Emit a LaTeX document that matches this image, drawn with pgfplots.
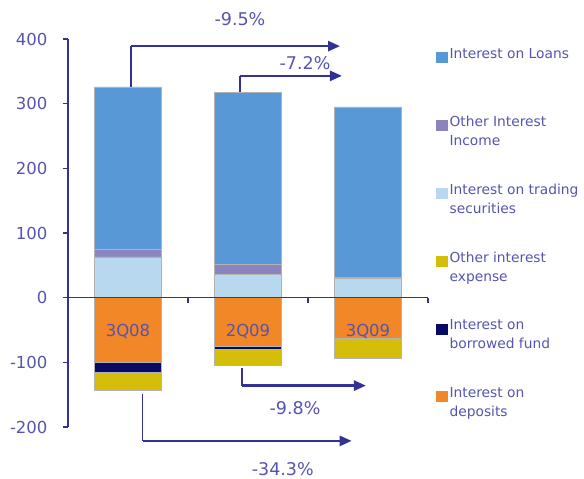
\documentclass[border=0pt]{standalone}
\usepackage{pgfplots}
\pgfplotsset{compat=1.18}
\usepackage{fontspec}
\setmainfont{DejaVu Sans}
\usetikzlibrary{arrows.meta}

\definecolor{loans}{RGB}{88,152,214}
\definecolor{otherinc}{RGB}{140,132,190}
\definecolor{trading}{RGB}{184,216,240}
\definecolor{otherexp}{RGB}{212,190,10}
\definecolor{borrowed}{RGB}{10,10,100}
\definecolor{deposits}{RGB}{242,135,40}
\definecolor{axblue}{RGB}{50,50,150}
\definecolor{txt}{RGB}{85,85,175}

\pgfplotsset{
  base/.style={
    at={(0,0)}, anchor=south west, scale only axis,
    width=360bp, height=388bp,
    xmin=-0.5, xmax=2.5, ymin=-200, ymax=400,
    ybar stacked, bar width=0.56,
    clip=false,
  },
  bars/.style={fill=#1, draw=black!30, line width=0.5bp},
  sq/.style={legend image code/.code={\fill[#1] (0bp,1bp) rectangle (11bp,11bp);}},
}

\begin{document}
\begin{tikzpicture}
\useasboundingbox (-68bp,-52bp) rectangle (516bp,427bp);

% expenses, stacked down from zero
\begin{axis}[base, hide axis]
\addplot[bars=deposits] coordinates {(0,-100) (1,-75) (2,-62)};
\addplot[bars=borrowed] coordinates {(0,-16) (1,-5) (2,-2)};
\addplot[bars=otherexp] coordinates {(0,-27) (1,-24) (2,-30)};
\end{axis}

% income, axes and notes
\begin{axis}[base,
  axis on top,
  axis x line=middle, axis y line=left,
  axis line style={axblue, line width=1.5bp, -},
  hide obscured x ticks=false, hide obscured y ticks=false,
  tick style={axblue, line width=1.2bp},
  tick align=outside, major tick length=5bp,
  ytick={-200,-100,...,400},
  yticklabel style={font=\fontsize{16.5bp}{20bp}\selectfont, text=txt, xshift=-12bp},
  /pgf/number format/assume math mode=true,
  xtick={0.5,1.5,2.5}, xticklabels={},
  extra x ticks={0,1,2},
  extra x tick labels={3Q08,2Q09,3Q09},
  extra x tick style={major tick length=0pt,
    xticklabel style={anchor=center, yshift=-34bp, font=\fontsize{16.5bp}{20bp}\selectfont, text=txt}},
  legend style={at={(1,1)}, anchor=north west, draw=none, fill=none,
    font=\fontsize{13.8bp}{19bp}\selectfont, text=txt,
    cells={align=left, anchor=west}, row sep=33bp, xshift=5bp, yshift=-5bp},
]
\addplot[bars=trading, forget plot] coordinates {(0,63) (1,36) (2,30)};
\addplot[bars=otherinc, forget plot] coordinates {(0,12) (1,16) (2,2)};
\addplot[bars=loans, forget plot] coordinates {(0,251) (1,266) (2,263)};

\addlegendimage{sq=loans}
\addlegendentry{Interest on Loans\\~}
\addlegendimage{sq=otherinc}
\addlegendentry{Other Interest\\Income}
\addlegendimage{sq=trading}
\addlegendentry{Interest on trading\\securities}
\addlegendimage{sq=otherexp}
\addlegendentry{Other interest\\expense}
\addlegendimage{sq=borrowed}
\addlegendentry{Interest on\\borrowed fund}
\addlegendimage{sq=deposits}
\addlegendentry{Interest on\\deposits}

% change arrows
\draw[axblue, line width=1.5bp] (axis cs:0.025,326) -- (axis cs:0.025,389);
\draw[axblue, line width=2.5bp, -{Triangle[length=12bp,width=10bp]}] (axis cs:0.025,389) -- (axis cs:1.767,389);
\draw[axblue, line width=1.5bp] (axis cs:0.933,316) -- (axis cs:0.933,343);
\draw[axblue, line width=2.5bp, -{Triangle[length=12bp,width=10bp]}] (axis cs:0.933,343) -- (axis cs:1.783,343);
\draw[axblue, line width=1.5bp] (axis cs:0.95,-109) -- (axis cs:0.95,-136);
\draw[axblue, line width=2.5bp, -{Triangle[length=12bp,width=10bp]}] (axis cs:0.95,-136) -- (axis cs:1.983,-136);
\draw[axblue, line width=1.5bp] (axis cs:0.122,-149) -- (axis cs:0.122,-221.5);
\draw[axblue, line width=2.5bp, -{Triangle[length=12bp,width=10bp]}] (axis cs:0.122,-221.5) -- (axis cs:1.864,-221.5);

\node[text=txt, font=\fontsize{17.5bp}{20bp}\selectfont] at (axis cs:0.933,431) {-9.5\%};
\node[text=txt, font=\fontsize{17.5bp}{20bp}\selectfont] at (axis cs:1.475,363) {-7.2\%};
\node[text=txt, font=\fontsize{17.5bp}{20bp}\selectfont] at (axis cs:1.392,-171) {-9.8\%};
\node[text=txt, font=\fontsize{17.5bp}{20bp}\selectfont] at (axis cs:1.29,-265) {-34.3\%};
\end{axis}
\end{tikzpicture}
\end{document}
